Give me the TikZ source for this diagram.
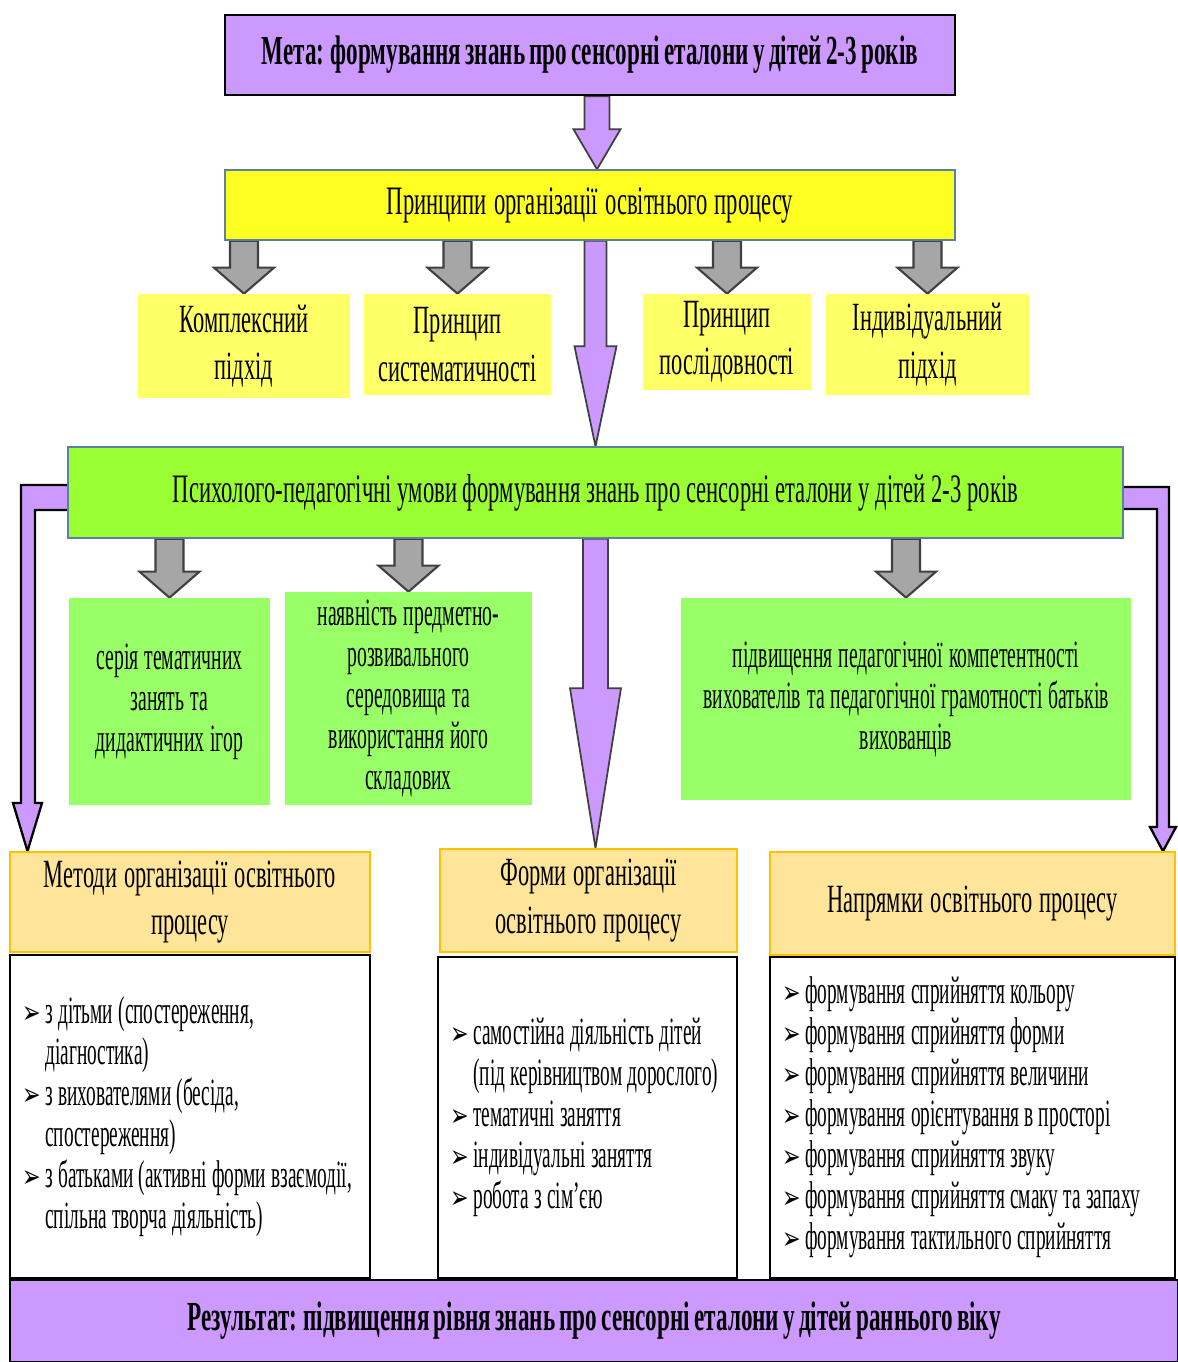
\documentclass[tikz,border=0pt]{standalone}
\usepackage{fontspec}
\setmainfont{Liberation Serif}[FakeStretch=0.56]
\newfontfamily\serednij{Liberation Serif}[FakeStretch=0.51]
\newfontfamily\vuzkyj{Liberation Serif}[FakeStretch=0.5]
\newfontfamily\symfont{DejaVu Sans}[FakeStretch=0.7]
\usetikzlibrary{calc,backgrounds}

\definecolor{fialka}{HTML}{CC99FF}
\definecolor{zhovtyj}{HTML}{FFFF22}
\definecolor{zhovtyjsvit}{HTML}{FFFF66}
\definecolor{zelenyj}{HTML}{99FF33}
\definecolor{zelenyjsvit}{HTML}{99FF66}
\definecolor{pisok}{HTML}{FFE599}
\definecolor{pomaranch}{HTML}{FFC000}
\definecolor{ramka}{HTML}{5B7FA6}
\definecolor{siryj}{HTML}{A6A6A6}
\definecolor{temnosiryj}{HTML}{404040}

\newcommand{\bul}{{\symfont\fontsize{18}{18}\selectfont ➢}}
% riadky spysku: z markerom i bez nioho
\newcommand{\punkt}[1]{\mbox{\spaceskip=3pt\relax\makebox[13pt][l]{\bul}#1}}
\newcommand{\dali}[1]{\mbox{\spaceskip=3pt\relax\hspace*{13pt}#1}}
\newcommand{\shryft}[3]{\fontsize{#1}{#2}\selectfont\spaceskip=#3\relax}

% blokova strilka vnyz: styl, vid, do, piv shyryny stryzhnia, piv shyryny vistria, dovzhyna vistria
\newcommand{\blokstrilka}[6]{%
  \path[#1] let \p1=(#2), \p2=(#3) in
    ({\x1-#4},\y1) -- ({\x1-#4},{\y2+#6}) -- ({\x1-#5},{\y2+#6}) -- (\x1,\y2)
    -- ({\x1+#5},{\y2+#6}) -- ({\x1+#4},{\y2+#6}) -- ({\x1+#4},\y1) -- cycle;}

\tikzset{
  base/.style={inner sep=2pt, align=center, font={\shryft{22}{23.3}{3.8pt}}},
  metabox/.style={base, draw=black, line width=1.5pt, fill=fialka, minimum width=14.6cm, minimum height=1.6cm, font={\bfseries\shryft{23.5}{26}{2.4pt}}},
  princbox/.style={base, draw=ramka, line width=0.8pt, fill=zhovtyj, minimum width=14.6cm, minimum height=1.4cm, font={\shryft{23}{26}{4pt}}},
  subbox/.style={base, fill=zhovtyjsvit, font={\shryft{22.8}{27}{4pt}}},
  psybox/.style={base, draw=ramka, line width=0.8pt, fill=zelenyj, minimum width=21.1cm, minimum height=1.82cm, font={\shryft{23}{26}{3.3pt}}},
  greenbox/.style={base, fill=zelenyjsvit, font={\serednij\shryft{22}{23.3}{3.4pt}}},
  headbox/.style={base, draw=pomaranch, line width=1pt, fill=pisok, font={\shryft{22.8}{27}{4pt}}},
  listbox/.style={base, draw=black, line width=1pt, fill=white, align=left, inner xsep=0.25cm, font={\vuzkyj\shryft{22}{23.3}{3pt}}},
  resultbox/.style={base, draw=black, line width=1.2pt, fill=fialka, minimum width=23.36cm, minimum height=1.64cm, font={\bfseries\shryft{23.5}{26}{2.4pt}}},
  sirastrilka/.style={fill=siryj, draw=temnosiryj, line width=1.2pt},
  fialkastrilka/.style={fill=fialka, draw=temnosiryj, line width=1pt},
  bokstrilka/.style={fill=fialka, draw=black, line width=1.3pt},
}

\begin{document}
\begin{tikzpicture}
  \useasboundingbox (0,0) rectangle (23.56,-27.24);

  % meta i pryntsypy
  \node[metabox] (meta) at (11.8,-1.1) {Мета: формування знань про сенсорні еталони у дітей 2-3 років};
  \node[princbox] (princ) at (11.8,-4.1) {Принципи організації освітнього процесу};

  \node[subbox, minimum width=4.24cm, minimum height=2.08cm] (komp) at (4.88,-6.92) {Комплексний\\підхід};
  \node[subbox, minimum width=3.74cm, minimum height=2.02cm] (syst) at (9.15,-6.89) {Принцип\\систематичності};
  \node[subbox, minimum width=3.36cm, minimum height=1.92cm] (posl) at (14.54,-6.84) {Принцип\\послідовності};
  \node[subbox, minimum width=4.06cm, minimum height=2.02cm] (indyv) at (18.55,-6.89) {Індивідуальний\\підхід};

  % umovy
  \node[psybox] (psy) at (11.91,-9.85) {Психолого-педагогічні умови формування знань про сенсорні еталони у дітей 2-3 років};

  \node[greenbox, minimum width=4.02cm, minimum height=4.14cm] (seria) at (3.39,-14.03) {серія тематичних\\занять та\\дидактичних ігор};
  \node[greenbox, minimum width=4.94cm, minimum height=4.26cm] (seredov) at (8.17,-13.97) {наявність предметно-\\розвивального\\середовища та\\використання його\\складових};
  \node[greenbox, minimum width=9.0cm, minimum height=4.04cm] (kompet) at (18.12,-13.98) {підвищення педагогічної компетентності\\вихователів та педагогічної грамотності батьків\\вихованців};

  % metody, formy, napriamky
  \node[headbox, minimum width=7.2cm, minimum height=2.0cm] (metody) at (3.8,-18.04) {Методи організації освітнього\\процесу};
  \node[headbox, minimum width=5.94cm, minimum height=2.06cm] (formy) at (11.77,-18.01) {Форми організації\\освітнього процесу};
  \node[headbox, minimum width=8.1cm, minimum height=2.06cm] (napr) at (19.45,-18.07) {Напрямки освітнього процесу};

  \node[listbox, text width=6.7cm, minimum height=6.46cm] (metlist) at (3.8,-22.33) {%
    \punkt{з дітьми (спостереження,}\\
    \dali{діагностика)}\\
    \punkt{з вихователями (бесіда,}\\
    \dali{спостереження)}\\
    \punkt{з батьками (активні форми взаємодії,}\\
    \dali{спільна творча діяльність)}};
  \node[listbox, text width=5.48cm, minimum height=6.42cm] (formlist) at (11.75,-22.35) {%
    \punkt{самостійна діяльність дітей}\\
    \dali{(під керівництвом дорослого)}\\
    \punkt{тематичні заняття}\\
    \punkt{індивідуальні заняття}\\
    \punkt{робота з сім’єю}};
  \node[listbox, text width=7.6cm, minimum height=6.42cm] (naprlist) at (19.45,-22.35) {%
    \punkt{формування сприйняття кольору}\\
    \punkt{формування сприйняття форми}\\
    \punkt{формування сприйняття величини}\\
    \punkt{формування орієнтування в просторі}\\
    \punkt{формування сприйняття звуку}\\
    \punkt{формування сприйняття смаку та запаху}\\
    \punkt{формування тактильного сприйняття}};

  % rezultat
  \node[resultbox] (result) at (11.88,-26.42) {Результат: підвищення рівня знань про сенсорні еталони у дітей раннього віку};

  % strilky
  \begin{scope}[on background layer]
    \blokstrilka{fialkastrilka}{$(meta.south)+(0.14,0)$}{princ.north}{0.25cm}{0.47cm}{0.8cm}
    \blokstrilka{fialkastrilka}{princ.south -| psy.north}{psy.north}{0.22cm}{0.42cm}{2.0cm}
    \blokstrilka{fialkastrilka}{psy.south}{formy.north}{0.25cm}{0.51cm}{3.2cm}

    \foreach \vid/\do in {princ/komp, princ/syst, princ/posl, princ/indyv, psy/seria, psy/seredov, psy/kompet}
      \blokstrilka{sirastrilka}{\vid.south -| \do.north}{\do.north}{0.28cm}{0.6cm}{0.52cm};

    \path[bokstrilka] let \p1=(psy.west), \p2=(metody.north) in
      ({\x1+0.3cm},{\y1+0.15cm}) -- (0.42cm,{\y1+0.15cm}) -- (0.42cm,-16.06cm) -- (0.26cm,-16.06cm)
      -- (0.55cm,\y2) -- (0.84cm,-16.06cm) -- (0.70cm,-16.06cm) -- (0.70cm,{\y1-0.35cm})
      -- ({\x1+0.3cm},{\y1-0.35cm}) -- cycle;
    \path[bokstrilka] let \p1=(psy.east), \p2=(napr.north) in
      ({\x1-0.3cm},{\y1+0.11cm}) -- (23.38cm,{\y1+0.11cm}) -- (23.38cm,-16.54cm) -- (23.52cm,-16.54cm)
      -- (23.26cm,\y2) -- (23.0cm,-16.54cm) -- (23.14cm,-16.54cm) -- (23.14cm,{\y1-0.33cm})
      -- ({\x1-0.3cm},{\y1-0.33cm}) -- cycle;
  \end{scope}

\end{tikzpicture}
\end{document}
